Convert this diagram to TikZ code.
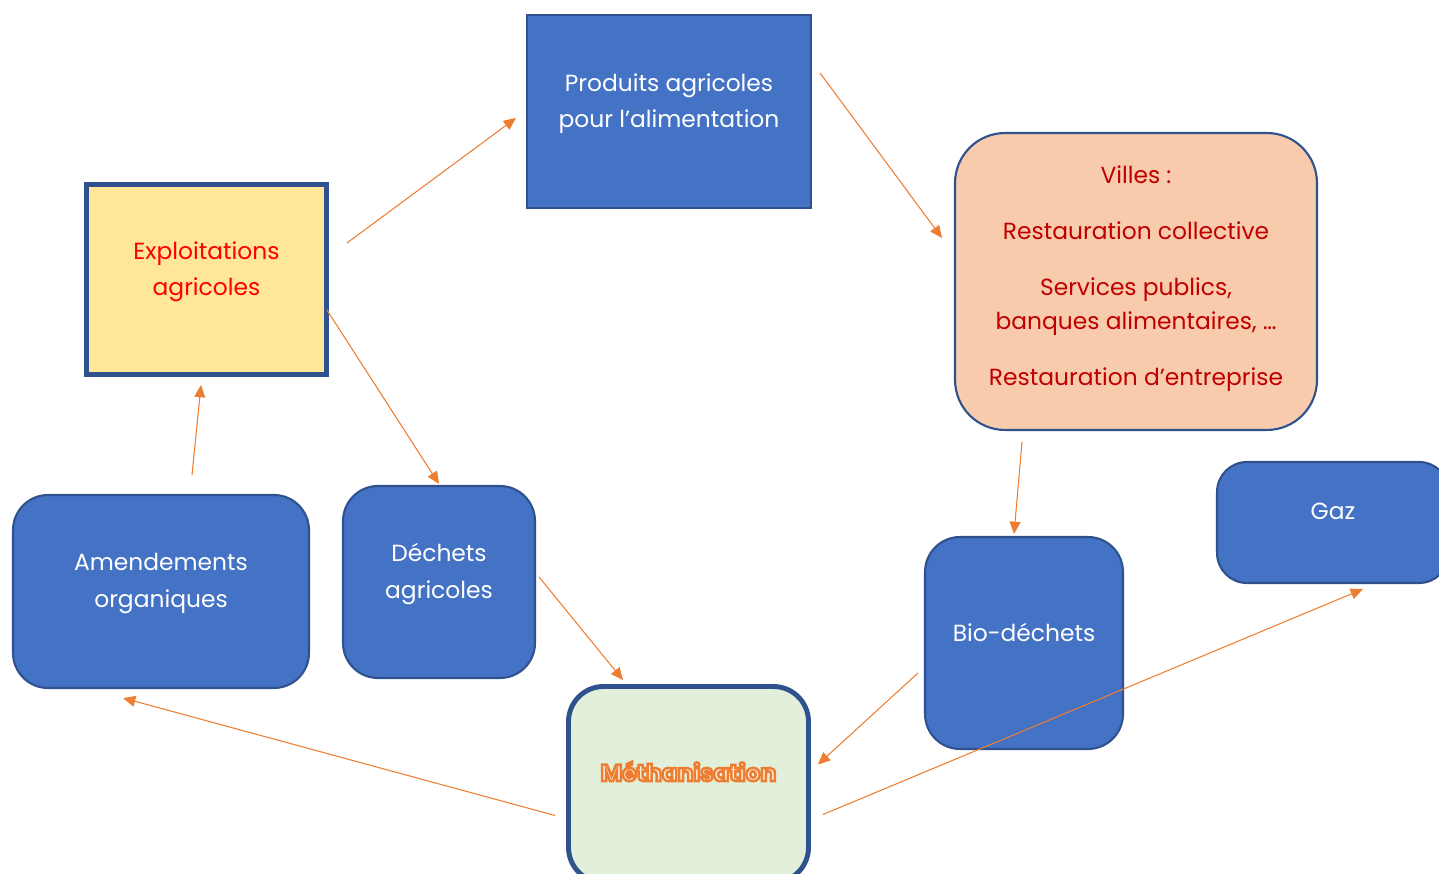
\documentclass[tikz,border=0pt]{standalone}
\usepackage{fontspec}
\setmainfont{Poppins}
\usetikzlibrary{arrows.meta, calc}
\definecolor{boxblue}{RGB}{68,114,196}
\definecolor{edgeblue}{RGB}{47,82,143}
\definecolor{flowor}{RGB}{237,125,49}
\definecolor{farmyellow}{RGB}{255,230,153}
\definecolor{cityrose}{RGB}{248,203,173}
\definecolor{cityred}{RGB}{192,0,0}
\definecolor{methgreen}{RGB}{226,239,218}

% outlined orange letters
\newcommand\hollowtext[1]{\special{pdf:literal direct 2 Tr 1.4 w 0.93 0.49 0.19 RG 1 0.93 0.88 rg}#1\special{pdf:literal direct 0 Tr}}

\tikzset{
  boxtext/.style={align=center, inner sep=0pt, text depth=12.5pt, font=\fontsize{13.3}{20.8}\selectfont},
  bluebox/.style={boxtext, draw=edgeblue, line width=1.2pt, fill=boxblue, text=white, rounded corners=0.7cm},
  flow/.style={draw=flowor, line width=0.6pt, -{Triangle[length=7pt,width=6.2pt]}},
}

\begin{document}
\begin{tikzpicture}[x=0.02cm, y=-0.02cm]
\useasboundingbox (0,0) rectangle (1439,874);

% Products and farms
\node[boxtext, draw=edgeblue, line width=1.2pt, fill=boxblue, text=white,
  minimum width=5.68cm, minimum height=3.86cm] (prod) at (669,111.5)
  {Produits agricoles\\pour l’alimentation};
\node[boxtext, draw=edgeblue, line width=2.8pt, fill=farmyellow, text=red,
  minimum width=4.8cm, minimum height=3.8cm] (expl) at (206.5,279.5)
  {Exploitations\\agricoles};

% Cities
\node[boxtext, draw=edgeblue, line width=1.2pt, fill=cityrose, text=cityred,
  rounded corners=1cm, minimum width=7.24cm, minimum height=5.94cm,
  text depth=7pt, font=\fontsize{13.3}{19.3}\selectfont] (villes) at (1136,281.5)
  {Villes :\\[12.5pt]Restauration collective\\[12.5pt]Services publics,\\banques alimentaires, …\\[12.5pt]Restauration d’entreprise};

% Blue boxes
\node[bluebox, minimum width=5.92cm, minimum height=3.86cm] (amend) at (161,591.5)
  {Amendements\\organiques};
\node[bluebox, minimum width=3.84cm, minimum height=3.84cm] (dech) at (439,582)
  {Déchets\\agricoles};
\node[bluebox, minimum width=3.96cm, minimum height=4.24cm] (bio) at (1024,643)
  {Bio-déchets};
\node[bluebox, rounded corners=0.6cm, minimum width=4.64cm, minimum height=2.42cm] (gaz) at (1333,522.5)
  {Gaz};

% Methanisation
\node[boxtext, draw=edgeblue, line width=2.8pt, fill=methgreen, rounded corners=0.7cm,
  text depth=15pt, font=\fontsize{13.3}{16}\selectfont\bfseries, text=flowor,
  minimum width=4.8cm, minimum height=3.92cm] (meth) at (688.5,784.5)
  {\hollowtext{Méthanisation}};

% Flows
\draw[flow] ($(expl.east)+(18,-36.5)$) -- ($(prod.west)+(-10,6.5)$);
\draw[flow] ($(prod.east)+(8,-38.5)$) -- ($(villes.west)+(-12,-43.5)$);
\draw[flow] ($(villes.south)+(-114,11)$) -- ($(bio.north)+(-10,-2)$);
\draw[flow] ($(expl.east)+(-2,30.5)$) -- ($(dech.north)+(0,-1)$);
\draw[flow] ($(dech.east)+(3,-5)$) -- ($(meth.north)+(-65.5,-4)$);
\draw[flow] ($(bio.west)+(-6,30)$) -- ($(meth.east)+(7,-20)$);
\draw[flow] ($(meth.east)+(12,30)$) -- ($(gaz.south)+(30,5)$);
\draw[flow] ($(meth.west)+(-11,31)$) -- ($(amend.south)+(-38,9)$);
\draw[flow] ($(amend.north)+(31,-19)$) -- ($(expl.south)+(-5.5,8)$);
\end{tikzpicture}
\end{document}
